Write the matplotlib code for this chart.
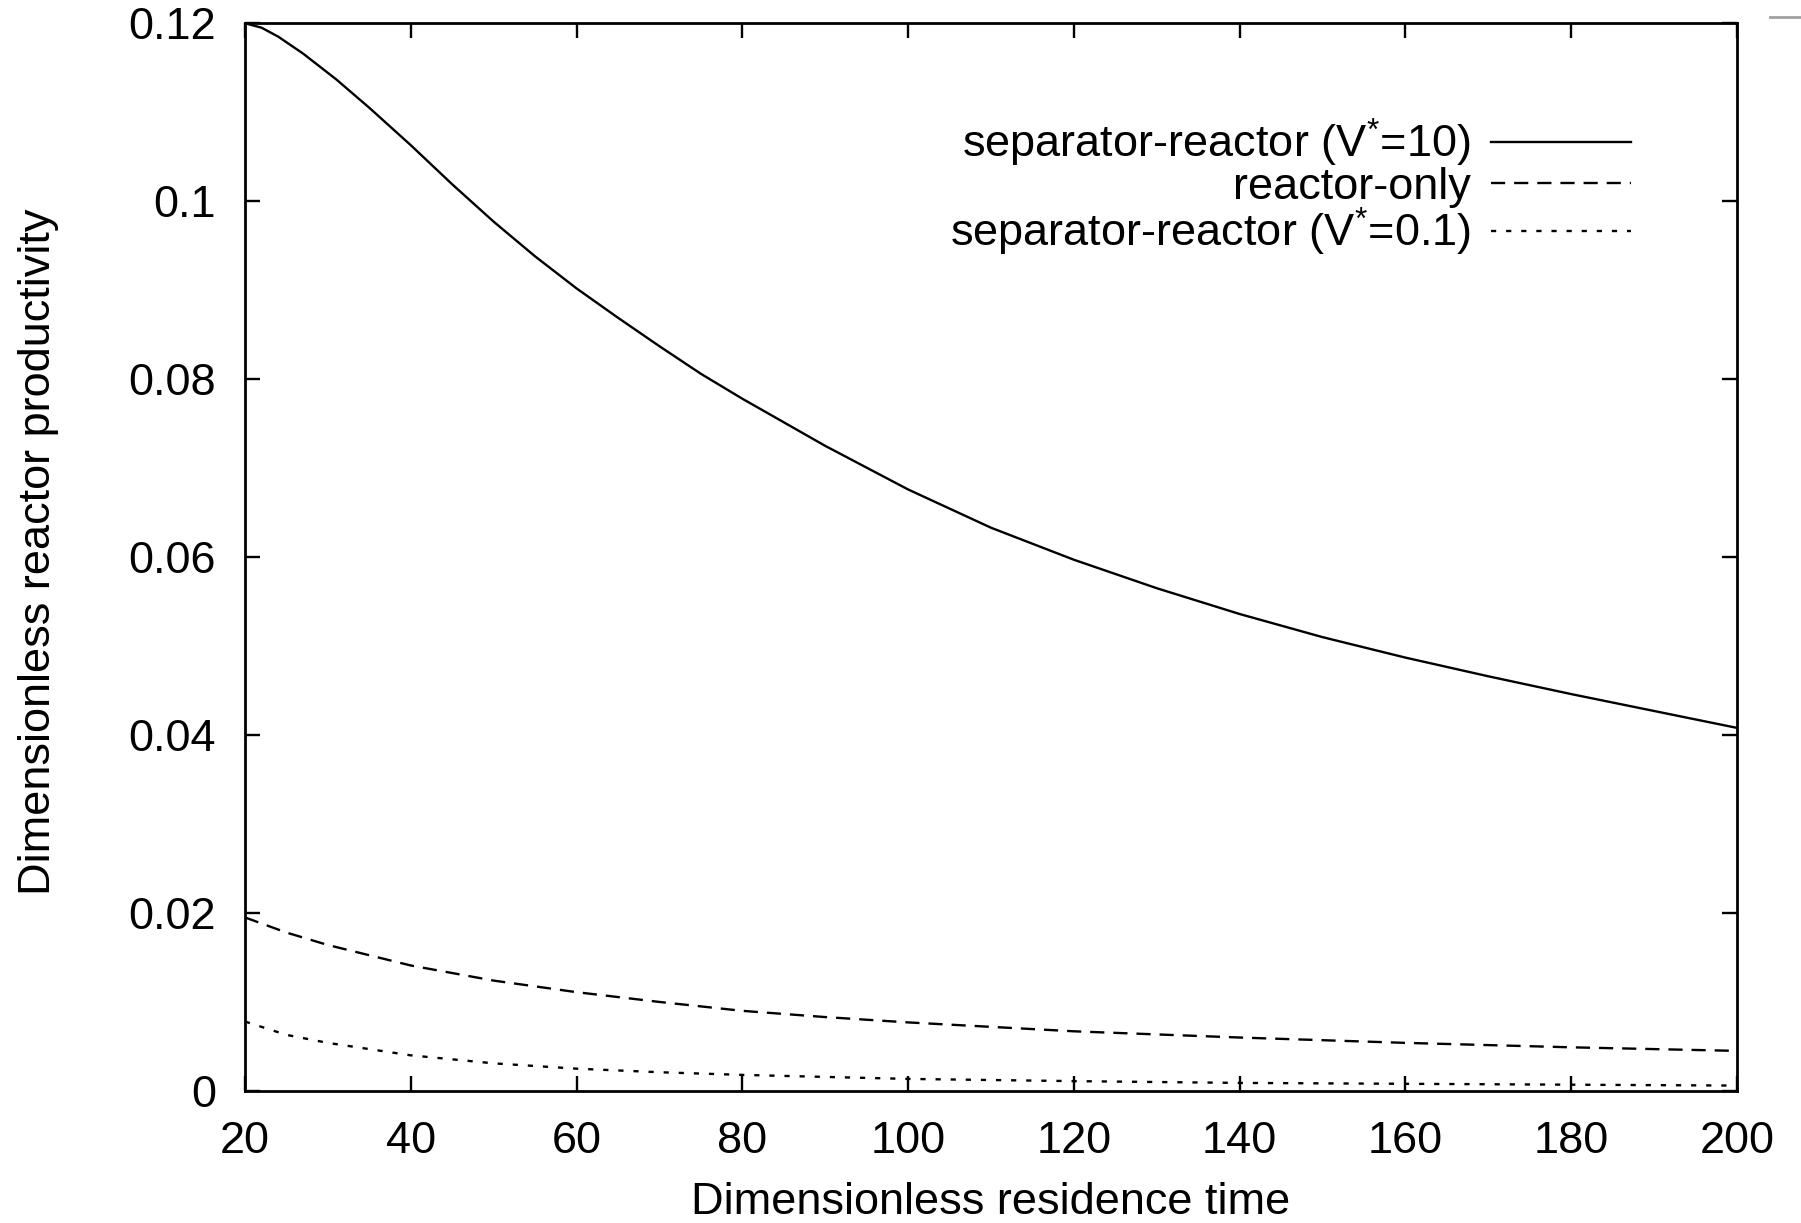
#!/usr/bin/env python3
"""
Reactor productivity vs residence time: separator-reactor vs reactor-only.
Values read off the original gnuplot figure.
"""
import numpy as np
import matplotlib
matplotlib.use('Agg')
import matplotlib.pyplot as plt
from matplotlib.lines import Line2D

plt.rcParams['font.family'] = ['Liberation Sans', 'DejaVu Sans']
plt.rcParams['mathtext.fontset'] = 'custom'
plt.rcParams['mathtext.rm'] = 'Liberation Sans'
plt.rcParams['mathtext.it'] = 'Liberation Sans'

# Data (dimensionless residence time vs productivity)
tau_sep10 = [20, 22, 24, 27, 31, 35, 40, 45, 50, 55, 60, 65, 70, 75, 80, 90,
             100, 110, 120, 130, 140, 150, 160, 170, 180, 190, 200]
prod_sep10 = [0.1200, 0.1195, 0.1185, 0.1166, 0.1137, 0.1105, 0.1063, 0.1019,
              0.0977, 0.0938, 0.0902, 0.0869, 0.0837, 0.0806, 0.0778, 0.0725,
              0.0676, 0.0633, 0.0597, 0.0565, 0.0536, 0.0510, 0.0487, 0.0466,
              0.0446, 0.0427, 0.0408]

tau_reactor = [20, 25, 30, 40, 50, 60, 70, 80, 90, 100, 120, 140, 160, 180, 200]
prod_reactor = [0.0195, 0.0178, 0.0164, 0.0141, 0.0124, 0.0111, 0.0100, 0.0090,
                0.0083, 0.0077, 0.0067, 0.0060, 0.0054, 0.0049, 0.0045]

tau_sep01 = [20, 25, 30, 40, 50, 60, 70, 80, 100, 120, 140, 160, 180, 200]
prod_sep01 = [0.0078, 0.0063, 0.0054, 0.0040, 0.0031, 0.0025, 0.0021, 0.0018,
              0.00135, 0.0011, 0.0009, 0.0008, 0.0007, 0.0006]

xticks = [20, 40, 60, 80, 100, 120, 140, 160, 180, 200]
yticks = [0, 0.02, 0.04, 0.06, 0.08, 0.1, 0.12]
ytick_labels = ['0', '0.02', '0.04', '0.06', '0.08', '0.1', '0.12']

FS = 32.5

fig = plt.figure(figsize=(18.01, 12.23), dpi=100)
ax = fig.add_axes([0.136, 0.108, 0.8285, 0.873])

ax.plot(tau_sep10, prod_sep10, color='black', lw=1.7, ls='-',
        label=r'separator-reactor (V$^{*}$=10)')
ax.plot(tau_reactor, prod_reactor, color='black', lw=1.7, ls=(0, (6, 3.8)),
        label='reactor-only')
ax.plot(tau_sep01, prod_sep01, color='black', lw=1.7, ls=(0, (2.2, 4.2)),
        label=r'separator-reactor (V$^{*}$=0.1)')

ax.set_xlim(20, 200)
ax.set_ylim(0, 0.12)
ax.set_xticks(xticks)
ax.set_xticklabels([str(t) for t in xticks])
ax.set_yticks(yticks)
ax.set_yticklabels(ytick_labels)
ax.tick_params(direction='in', length=11, width=1.7, top=True, right=True,
               labelsize=FS)
ax.tick_params(axis='x', pad=22)
ax.tick_params(axis='y', pad=21)
for sp in ax.spines.values():
    sp.set_linewidth(2)

ax.set_xlabel('Dimensionless residence time', fontsize=FS, labelpad=14)
ax.set_ylabel('Dimensionless reactor productivity', fontsize=FS, labelpad=50)
ax.yaxis.label.set_y(0.505)

leg = ax.legend(loc='upper right', bbox_to_anchor=(0.944, 0.933),
                markerfirst=False, frameon=False, fontsize=FS,
                handlelength=3.1, handletextpad=0.45, labelspacing=-0.05,
                borderpad=0)

# small grey stroke at the top right corner of the original image
fig.add_artist(Line2D([0.983, 1.0], [0.9858, 0.9858], color='#a0a0a0', lw=2,
                      transform=fig.transFigure))

fig.savefig('out.png', dpi=100)
